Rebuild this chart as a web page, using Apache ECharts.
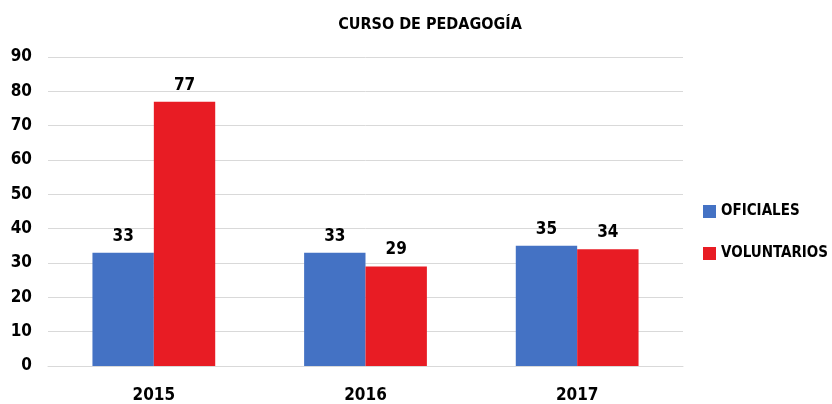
<!DOCTYPE html>
<html>
<head>
<meta charset="utf-8">
<script src="https://cdn.jsdelivr.net/npm/echarts@6/dist/echarts.min.js"></script>
<style>
  html, body { margin: 0; padding: 0; background: #fff; }
  #chart { width: 832px; height: 404px; }
</style>
</head>
<body>
<div id="chart"></div>
<script>
// datos del gráfico
const years = ['2015', '2016', '2017'];
const oficiales = [33, 33, 35];
const voluntarios = [77, 29, 34];
const yTicks = [0, 10, 20, 30, 40, 50, 60, 70, 80, 90];

const font = '"DejaVu Sans Condensed", "Lato", sans-serif';

let myChart = echarts.init(document.getElementById('chart'));
let option = {
  backgroundColor: '#ffffff',
  textStyle: { fontFamily: font },
  title: {
    text: 'CURSO DE PEDAGOGÍA',
    left: 425,
    top: 12,
    textAlign: 'center',
    textStyle: { fontSize: 16, fontWeight: 'bold', color: '#000', fontFamily: font }
  },
  legend: {
    orient: 'vertical',
    left: 698,
    top: 199,
    itemWidth: 13,
    itemHeight: 13,
    itemGap: 27,
    icon: 'rect',
    textStyle: { fontSize: 15, fontWeight: 'bold', color: '#000', fontFamily: font }
  },
  grid: { left: 48, right: 149, top: 57, bottom: 37 },
  xAxis: {
    type: 'category',
    data: years,
    axisTick: { show: false },
    axisLine: { lineStyle: { color: '#d9d9d9' } },
    axisLabel: { fontSize: 17, fontWeight: 'bold', color: '#000', margin: 21, fontFamily: font }
  },
  yAxis: {
    type: 'value',
    min: yTicks[0],
    max: yTicks[yTicks.length - 1],
    interval: 10,
    axisLine: { show: false },
    axisTick: { show: false },
    splitLine: { lineStyle: { color: '#d9d9d9' } },
    axisLabel: { fontSize: 17, fontWeight: 'bold', color: '#000', margin: 16, fontFamily: font }
  },
  series: [
    {
      name: 'OFICIALES',
      type: 'bar',
      data: oficiales,
      barGap: '0%',
      barCategoryGap: '42%',
      itemStyle: { color: '#4472C4' },
      label: { show: true, position: 'top', distance: 8, fontSize: 17, fontWeight: 'bold', color: '#000', fontFamily: font }
    },
    {
      name: 'VOLUNTARIOS',
      type: 'bar',
      data: voluntarios,
      itemStyle: { color: '#E81C24' },
      label: { show: true, position: 'top', distance: 8, fontSize: 17, fontWeight: 'bold', color: '#000', fontFamily: font }
    }
  ]
};
myChart.setOption(option);
</script>
</body>
</html>
